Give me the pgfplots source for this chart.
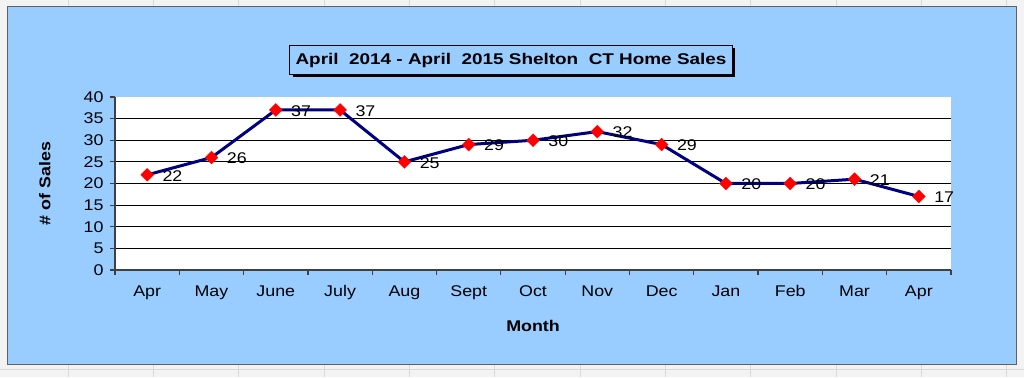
\documentclass[border=0pt]{standalone}
\usepackage{pgfplots}
\pgfplotsset{compat=1.18}
\usepackage{fontspec}
\setmainfont{Liberation Sans}[FakeStretch=1.15]
\newfontfamily\titlefont{Liberation Sans}[FakeStretch=1.22]
\usetikzlibrary{shadows}
\definecolor{bgblue}{RGB}{153,204,255}
\definecolor{navy}{RGB}{0,0,128}
\definecolor{outergray}{RGB}{243,243,243}
\begin{document}
\begin{tikzpicture}[x=1pt,y=1pt]
\fill[outergray] (0,0) rectangle (1024,377);
\foreach \x in {68,153.3,...,1024} \draw[gray!30] (\x,0) -- (\x,377);
\draw[gray!30] (0,8) -- (1024,8);
\fill[bgblue] (7,12) rectangle (1016,370);
\draw[gray!75!black, line width=1pt] (7,12) rectangle (1016,370);
\node[draw=black, line width=1pt, fill=bgblue,
      drop shadow={shadow xshift=3pt, shadow yshift=-3pt, opacity=1, fill=black},
      font=\titlefont\fontsize{15.5}{18}\selectfont\bfseries, inner xsep=6pt, minimum height=29pt]
  at (511,317) {April~~2014 - April~~2015 Shelton~~CT~Home Sales};
\begin{axis}[
  at={(115pt,107pt)}, anchor=south west, scale only axis,
  width=836pt, height=173pt,
  xmin=-0.5, xmax=12.5, ymin=0, ymax=40,
  axis background/.style={fill=white},
  axis x line=bottom, axis y line=left,
  axis line style={-, black!75, line width=1.2pt},
  xtick={0,1,...,12},
  xticklabels={Apr,May,June,July,Aug,Sept,Oct,Nov,Dec,Jan,Feb,Mar,Apr},
  minor xtick={-0.5,0.5,...,12.5},
  ytick={0,5,...,35},
  minor ytick={0,5,...,40},
  ymajorgrids, major grid style={black, line width=1.2pt},
  extra y ticks={40}, extra y tick style={grid=none},
  tick align=outside, major tick length=0pt, minor tick length=5pt,
  tick style={black!75, line width=1.2pt},
  /pgf/number format/assume math mode=true,
  ticklabel style={font=\fontsize{15.5}{18}\selectfont},
  xticklabel style={yshift=-12pt},
  yticklabel style={xshift=-8pt},
  xlabel={Month}, ylabel={\# of Sales},
  label style={font=\fontsize{15.5}{18}\selectfont\bfseries},
  xlabel style={at={(axis description cs:0.5,-0.324)}, anchor=center},
  ylabel style={at={(axis description cs:-0.084,0.5)}, anchor=center},
  clip=false,
  nodes near coords,
  nodes near coords style={anchor=west, xshift=12pt, yshift=-1pt, text=black,
     font=\fontsize{15.5}{18}\selectfont},
]
\addplot[navy, line width=3pt, mark=square*, mark size=4.6pt,
  mark options={rotate=45, fill=red, draw=red, line width=0.2pt}]
  coordinates {(0,22) (1,26) (2,37) (3,37) (4,25) (5,29) (6,30) (7,32) (8,29) (9,20) (10,20) (11,21) (12,17)};
\end{axis}
\pgfresetboundingbox
\useasboundingbox (0,0) rectangle (1024,377);
\end{tikzpicture}
\end{document}
